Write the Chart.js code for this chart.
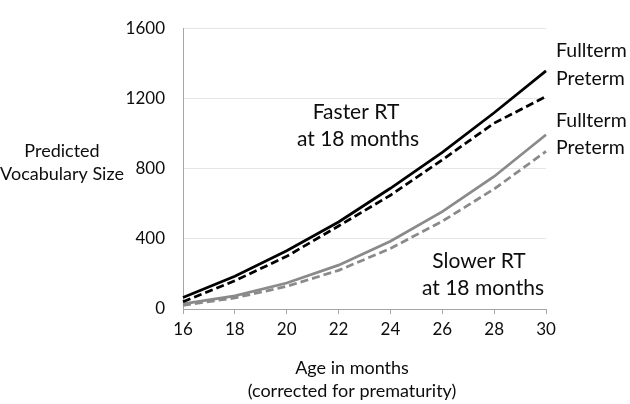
<!DOCTYPE html>
<html>
<head>
<meta charset="utf-8">
<script src="https://cdn.jsdelivr.net/npm/chart.js@4.4.1/dist/chart.umd.min.js"></script>
<style>
html, body { margin: 0; padding: 0; background: #fff; }
</style>
</head>
<body>
<canvas id="vocabChart" width="630" height="404"></canvas>
<script>
// ages (months, corrected) and predicted vocabulary size
const ages = ['16', '18', '20', '22', '24', '26', '28', '30'];
const fullFaster = [65, 186, 332, 496, 688, 893, 1118, 1357];
const preFaster  = [41, 161, 300, 473, 648, 850, 1059, 1211];
const fullSlower = [29, 75, 148, 250, 386, 555, 755, 993];
const preSlower  = [21, 63, 129, 220, 345, 500, 684, 898];
const yTicks = [0, 400, 800, 1200, 1600];

const FONT = 'Lato, "Open Sans", sans-serif';
const TXT = '#0d0d0d';

// text around the plot
const textLabels = {
    id: 'textLabels',
    afterDraw(chart) {
        const ctx = chart.ctx;
        ctx.save();
        ctx.fillStyle = TXT;
        ctx.textBaseline = 'middle';
        ctx.textAlign = 'center';

        ctx.font = '18px ' + FONT;
        ctx.fillText('Predicted', 62, 151);
        ctx.fillText('Vocabulary Size', 62, 174);

        ctx.fillText('Age in months', 352, 368);
        ctx.fillText('(corrected for prematurity)', 352, 391);

        ctx.font = '21px ' + FONT;
        ctx.fillText('Faster RT', 356, 112);
        ctx.fillText('at 18 months', 358, 139);
        ctx.fillText('Slower RT', 479, 261);
        ctx.fillText('at 18 months', 483, 288);

        ctx.textAlign = 'left';
        ctx.font = '19.5px ' + FONT;
        ctx.fillText('Fullterm', 556, 51);
        ctx.fillText('Preterm', 556, 79);
        ctx.fillText('Fullterm', 556, 121);
        ctx.fillText('Preterm', 556, 148);
        ctx.restore();
    }
};

const ctx = document.getElementById('vocabChart').getContext('2d');

const vocabChart = new Chart(ctx, {
    type: 'line',
    data: {
        labels: ages,
        datasets: [
            { label: 'Fullterm faster', data: fullFaster, borderColor: '#000', borderWidth: 2.75 },
            { label: 'Preterm faster', data: preFaster, borderColor: '#000', borderWidth: 2.75, borderDash: [8, 4] },
            { label: 'Fullterm slower', data: fullSlower, borderColor: '#8a8a8a', borderWidth: 2.75 },
            { label: 'Preterm slower', data: preSlower, borderColor: '#8a8a8a', borderWidth: 2.75, borderDash: [8, 4] }
        ]
    },
    options: {
        responsive: false,
        devicePixelRatio: 1,
        animation: false,
        layout: { padding: { left: 123, right: 84, top: 10, bottom: 0 } },
        elements: {
            line: { tension: 0, fill: false, borderCapStyle: 'butt' },
            point: { radius: 0, hoverRadius: 0 }
        },
        plugins: {
            legend: { display: false },
            tooltip: { enabled: false }
        },
        scales: {
            x: {
                type: 'category',
                offset: false,
                afterFit(scale) { scale.height = 95; },
                grid: { drawOnChartArea: false, drawTicks: true, tickLength: 5, color: '#a6a6a6' },
                border: { color: '#a6a6a6', width: 1 },
                ticks: { color: TXT, font: { family: FONT, size: 17 }, padding: 5, maxRotation: 0 }
            },
            y: {
                min: 0,
                max: 1600,
                afterFit(scale) { scale.width = 60; },
                afterBuildTicks(scale) { scale.ticks = yTicks.map(v => ({ value: v })); },
                grid: { drawTicks: false, color: '#e6e6e6' },
                border: { color: '#a6a6a6', width: 1 },
                ticks: {
                    color: TXT,
                    font: { family: FONT, size: 17 },
                    padding: 18,
                    callback: (v) => String(v)
                }
            }
        }
    },
    plugins: [textLabels]
});
</script>
</body>
</html>
